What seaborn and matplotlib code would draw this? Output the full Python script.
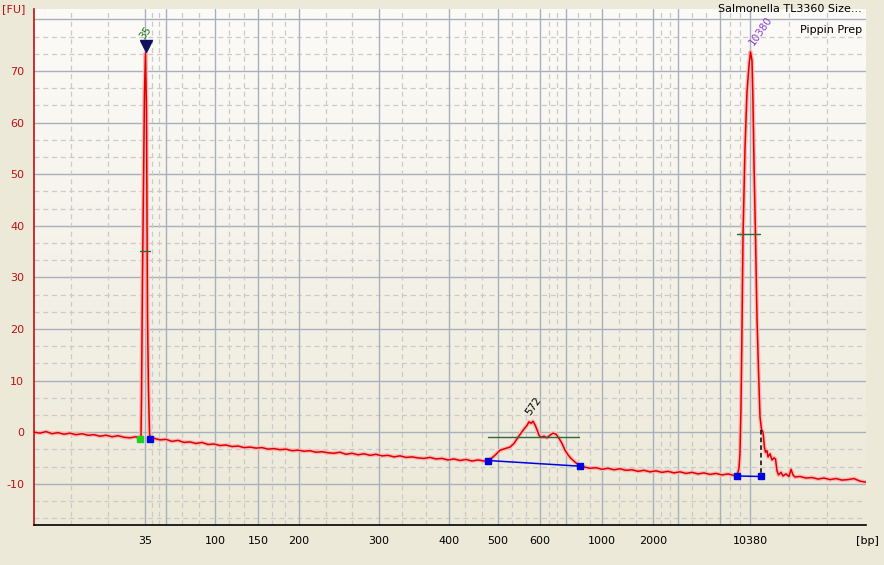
import numpy as np
import pandas as pd
import matplotlib
matplotlib.use("Agg")
import matplotlib.pyplot as plt
import seaborn as sns
from matplotlib.colors import LinearSegmentedColormap

# ---- data (migration position in arbitrary units, fluorescence in FU) ----
pos = [34, 40, 46, 52, 58, 64, 70, 76, 82, 88, 94, 100, 106, 112, 118, 124, 130, 136, 140,
       141, 141.5, 142.5, 143.5, 144.5, 145.5, 146.5, 147, 147.5, 148.5, 149.5, 150,
       154, 160, 166, 172, 178, 184, 190, 196, 202, 208, 214, 220, 226, 232, 238, 244, 250,
       256, 262, 268, 274, 280, 286, 292, 298, 304, 310, 316, 322, 328, 334, 340, 346, 352,
       358, 364, 370, 376, 382, 388, 394, 400, 406, 412, 418, 424, 430, 436, 442, 448, 454,
       460, 466, 472, 478, 484, 488,
       492, 496, 500, 505, 510, 514, 518, 521, 524, 527, 529, 531, 533, 535, 537, 539, 541,
       544, 547, 550, 553, 556, 559, 562, 565, 568, 571, 575, 580,
       585, 590, 596, 602, 608, 614, 620, 626, 632, 638, 644, 650, 656, 662, 668, 674, 680,
       686, 692, 698, 704, 710, 716, 722, 728, 734, 737,
       739, 740, 741, 742, 743, 745, 747, 749, 750.5, 752, 753, 754, 755.5, 757, 758.5, 760,
       761.5, 763, 764.5, 765.5, 767, 768, 770, 772, 774, 775.5, 777, 778.5, 781, 783, 786,
       789, 791, 793, 795, 800, 806, 812, 818, 824, 830, 836, 842, 848, 854, 860, 866]
fu = [0.0, -0.2, 0.1, -0.3, -0.1, -0.4, -0.2, -0.5, -0.3, -0.6, -0.5, -0.8, -0.6, -0.9, -0.7, -1.0, -1.1, -0.9, -1.3,
      -1.0, 6.8, 30, 49, 66, 73.5, 62, 40, 22, 8, 0, -1.3,
      -1.2, -1.5, -1.4, -1.8, -1.6, -2.0, -1.9, -2.2, -2.0, -2.4, -2.3, -2.6, -2.5, -2.8, -2.7, -3.0, -2.9,
      -3.1, -3.0, -3.3, -3.2, -3.4, -3.3, -3.6, -3.5, -3.7, -3.6, -3.9, -3.8, -4.0, -4.1, -3.9, -4.3, -4.1,
      -4.4, -4.2, -4.5, -4.3, -4.6, -4.5, -4.8, -4.6, -4.9, -4.8, -5.0, -5.1, -4.9, -5.2, -5.1, -5.4, -5.2,
      -5.5, -5.3, -5.6, -5.4, -5.6, -5.5,
      -5.0, -4.3, -3.5, -3.2, -2.9, -2.2, -1.0, -0.2, 0.6, 1.3, 2.0, 1.7, 2.1, 1.4, 0.5, -0.6, -1.0,
      -0.8, -1.1, -0.6, -0.2, -0.4, -1.2, -2.2, -3.5, -4.4, -5.1, -5.8, -6.6,
      -6.8, -7.0, -6.9, -7.2, -7.0, -7.3, -7.1, -7.4, -7.3, -7.6, -7.4, -7.7, -7.5, -7.8, -7.6, -7.9, -7.7,
      -8.0, -7.8, -8.1, -7.9, -8.2, -8.0, -8.3, -8.1, -8.4, -8.5,
      -7.0, -4.0, 5, 20, 38, 55, 66, 71, 73.7, 72, 64, 52, 38, 22, 12, 3,
      0.5, 0.0, -3.0, -3.9, -3.6, -4.8, -4.2, -5.4, -5.0, -5.2, -7.5, -8.3, -7.8, -8.5, -8.1,
      -8.6, -7.2, -8.3, -8.7, -8.6, -8.9, -8.8, -9.1, -8.9, -9.2, -9.0, -9.3, -9.2, -9.0, -9.5, -9.7]

# axis ticks (bp ladder mapped to migration positions)
xtick_pos = [145, 166, 215, 258, 299, 379, 449, 498, 540, 566, 602, 653, 678, 720, 750]
xtick_lab = ["35", "", "100", "150", "200", "300", "400", "500", "600", "", "1000", "2000", "", "", "10380"]
ytick_vals = [-10, 0, 10, 20, 30, 40, 50, 60, 70]

# peak annotations
peak_pos = [145.5, 533, 761]
peak_lab = ["35", "572", "10380"]
peak_lab_y = [75.8, 2.9, 74.6]
peak_col = ["#1a7a1a", "#000000", "#8a3fd0"]

# peak boundaries (start, end) and baseline FU at those points
bound_x = [(488, 580), (737, 761)]
bound_y = [(-5.5, -6.6), (-8.5, -8.6)]
halfline = [(140, 150, 35.1), (488, 579, -1.0), (737, 760, 38.4)]

XMIN, XMAX, YMIN, YMAX = 34, 866, -18.0, 82.0

df = pd.DataFrame({"pos": pos, "fu": fu})

sns.set_style("white")
plt.rcParams['font.family'] = ['DejaVu Sans']

W, H = 884, 565
fig = plt.figure(figsize=(W / 100, H / 100), dpi=100, facecolor="#ECE9D8")
ax = fig.add_axes([XMIN / W, 1 - 525 / H, (XMAX - XMIN) / W, (525 - 9) / H])

# background gradient of plot area
grad = np.linspace(0, 1, 256).reshape(-1, 1)
cmap = LinearSegmentedColormap.from_list("bg", ["#FCFBF8", "#ECE9D8"])
ax.imshow(grad, aspect="auto", cmap=cmap, extent=[0, 1, 0, 1], transform=ax.transAxes, zorder=0)

# grid
major_grid = "#A8B0BC"
minor_grid = "#CACACA"
for yv in range(-10, 81, 10):
    ax.axhline(yv, color=major_grid, lw=1.0, zorder=1)
for yv in np.arange(-10 - 20 / 3, 81, 10 / 3):
    if abs(round(yv / 10) * 10 - yv) > 0.5:
        ax.axhline(yv, color=minor_grid, lw=0.9, ls=(0, (4, 3)), zorder=1)
for xv in xtick_pos:
    ax.axvline(xv, color=major_grid, lw=1.0, zorder=1)
edges = [XMIN] + xtick_pos + [XMAX]
for a, b in zip(edges[:-1], edges[1:]):
    for f in (1 / 3, 2 / 3):
        ax.axvline(a + (b - a) * f, color=minor_grid, lw=0.9, ls=(0, (4, 3)), zorder=1)

# trace: halo + line
ax.plot(df["pos"], df["fu"], color="#F6B8B8", lw=3.0, zorder=2, solid_joinstyle="round")
sns.lineplot(data=df, x="pos", y="fu", ax=ax, color="#E00000", lw=1.1, zorder=3,
             estimator=None, sort=False)

# peak marking
for (x0, x1), (y0, y1) in zip(bound_x, bound_y):
    ax.plot([x0, x1], [y0, y1], color="#0000E0", lw=1.1, zorder=4)
    ax.plot([x0, x1], [y0, y1], ls="none", marker="s", ms=4.5, color="#0000E0", zorder=5)
ax.plot([761, 761], [0.4, -8.6], color="black", lw=1.1, ls=(0, (3, 2)), zorder=4)
ax.plot([140], [-1.3], ls="none", marker="s", ms=4.5, color="#20D020", zorder=5)
ax.plot([150], [-1.3], ls="none", marker="s", ms=4.5, color="#0000E0", zorder=5)
for x0, x1, yv in halfline:
    ax.plot([x0, x1], [yv, yv], color="#306838", lw=1.0, zorder=4)
ax.plot([145.5], [74.8], ls="none", marker="v", ms=8, color="#101060", zorder=6)

for px, lab, ly, c in zip(peak_pos, peak_lab, peak_lab_y, peak_col):
    ax.text(px, ly, lab, rotation=55, color=c, fontsize=7.5, ha="center", va="bottom", zorder=6)

ax.set_xlim(XMIN, XMAX)
ax.set_ylim(YMIN, YMAX)
ax.set_xlabel("")
ax.set_ylabel("")

ax.set_xticks(xtick_pos)
ax.set_xticklabels(xtick_lab, fontsize=8, color="black")
ax.set_yticks(ytick_vals)
ax.set_yticklabels([str(v) for v in ytick_vals], fontsize=8, color="#C01010")
ax.tick_params(axis="x", direction="out", length=5, width=1, color="black", pad=3)
ax.tick_params(axis="y", direction="out", length=5, width=1, color="#C01010", pad=2)

for s in ("top", "right"):
    ax.spines[s].set_visible(False)
ax.spines["left"].set_color("#C01010")
ax.spines["left"].set_linewidth(1.2)
ax.spines["bottom"].set_color("black")
ax.spines["bottom"].set_linewidth(1.2)

fig.text(2 / W, 1 - 9 / H, "[FU]", color="#C01010", fontsize=8, ha="left", va="center")
fig.text(879 / W, 1 - 541 / H, "[bp]", color="black", fontsize=8, ha="right", va="center")
fig.text(862 / W, 1 - 9 / H, "Salmonella TL3360 Size...", color="black", fontsize=8,
         ha="right", va="center")
fig.text(862 / W, 1 - 30 / H, "Pippin Prep", color="black", fontsize=8, ha="right", va="center")

fig.savefig("out.png", dpi=100, facecolor=fig.get_facecolor())
